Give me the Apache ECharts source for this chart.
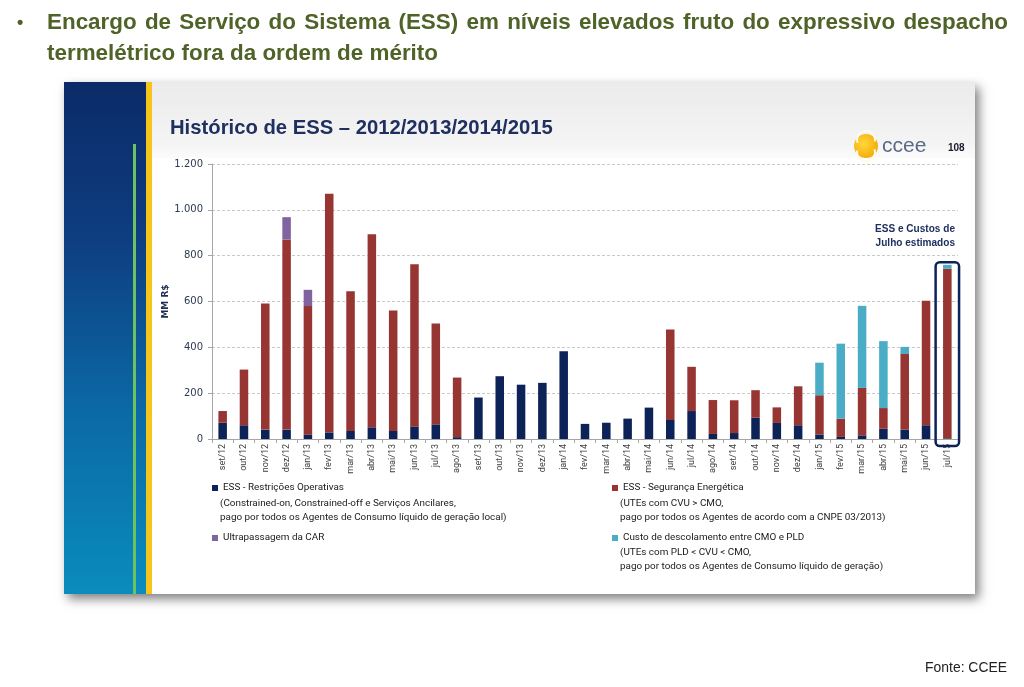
<!DOCTYPE html>
<html><head><meta charset="utf-8">
<script src="https://cdn.jsdelivr.net/npm/echarts@6/dist/echarts.min.js"></script>
<style>html,body{margin:0;padding:0;background:#fff}#main{width:1024px;height:687px}</style>
</head><body><div id="main"></div>
<script>
const categories = ['set/12','out/12','nov/12','dez/12','jan/13','fev/13','mar/13','abr/13','mai/13','jun/13','jul/13','ago/13','set/13','out/13','nov/13','dez/13','jan/14','fev/14','mar/14','abr/14','mai/14','jun/14','jul/14','ago/14','set/14','out/14','nov/14','dez/14','jan/15','fev/15','mar/15','abr/15','mai/15','jun/15','jul/15'];
const restricoes = [71,60,41,41,19,29,35,51,35,55,64,8,181,274,237,245,383,66,71,89,137,83,122,22,26,93,70,60,20,9,16,45,41,60,3];
const seguranca  = [51,243,550,830,561,1041,610,842,526,708,440,260,0,0,0,0,0,0,0,0,0,395,193,148,143,120,68,170,171,80,207,90,330,543,740];
const ultrapassagem = [0,0,0,97,71,0,0,0,0,0,0,0,0,0,0,0,0,0,0,0,0,0,0,0,0,0,0,0,0,0,0,0,0,0,0];
const descolamento  = [0,0,0,0,0,0,0,0,0,0,0,0,0,0,0,0,0,0,0,0,0,0,0,0,0,0,0,0,142,327,358,292,31,0,17];
const yTicks = [0,200,400,600,800,1000,1200];
const seriesNames = ['ESS - Restrições Operativas','ESS - Segurança Energética','Ultrapassagem da CAR','Custo de descolamento entre CMO e PLD'];
const legendSubText = ['(Constrained-on, Constrained-off e Serviços Ancilares,\npago por todos os Agentes de Consumo líquido de geração local)','(UTEs com CVU > CMO,\npago por todos os Agentes de acordo com a CNPE 03/2013)','','(UTEs com PLD < CVU < CMO,\npago por todos os Agentes de Consumo líquido de geração)'];
const headline1 = 'Encargo de Serviço do Sistema (ESS) em níveis elevados fruto do expressivo despacho';
const headline2 = 'termelétrico fora da ordem de mérito';
const slideTitle = 'Histórico de ESS – 2012/2013/2014/2015';
const noteText = 'ESS e Custos de\nJulho estimados';
const sourceText = 'Fonte: CCEE';

const hFam = "'Liberation Sans',Arial,sans-serif";
const LFAM = "Roboto,'Liberation Sans',sans-serif";
const colors = ['#0d2358','#973532','#8064a2','#4bacc6'];

const cv = document.createElement('canvas').getContext('2d');
function measure(t, font){ cv.font = font; return cv.measureText(t).width; }
function fitSize(t, weight, family, target){ const w = measure(t, weight+' 20px '+family); return 20*target/w; }

const hSize = fitSize(headline2,'bold',hFam,391);
const hFont = 'bold '+hSize.toFixed(2)+'px '+hFam;
const words = headline1.split(' ');
const ww = words.map(w=>measure(w,hFont));
const totalW = ww.reduce((a,b)=>a+b,0);
const gap = (1008-47-totalW)/(words.length-1);
const headGraphics = [];
let xx = 47;
words.forEach((w,i)=>{ headGraphics.push({type:'text', x:xx, y:23, style:{text:w, fill:'#4f6228', font:hFont, textVerticalAlign:'middle'}}); xx += ww[i]+gap; });
headGraphics.push({type:'text', x:47, y:54, style:{text:headline2, fill:'#4f6228', font:hFont, textVerticalAlign:'middle'}});
headGraphics.push({type:'text', x:17, y:23, style:{text:'•', fill:'#4f6228', font:'bold 18px '+hFam, textVerticalAlign:'middle'}});

const tSize = fitSize(slideTitle,'bold',hFam,383);
const lSize = Math.round(fitSize('pago por todos os Agentes de Consumo líquido de geração local)','normal',LFAM,287)*10)/10;
const nSize = fitSize('ESS e Custos de','bold',hFam,80);
const fSize = fitSize(sourceText,'normal',hFam,82);

const chart = echarts.init(document.getElementById('main'));
const legendBase = {orient:'horizontal', icon:'rect', itemWidth:6, itemHeight:6, padding:0, selectedMode:false,
  textStyle:{fontSize:lSize, color:'#1a1a1a', fontFamily:LFAM}};
const option = {
  animation:false,
  backgroundColor:'#ffffff',
  legend:[
    Object.assign({}, legendBase, {data:[seriesNames[0]], left:212, top:483}),
    Object.assign({}, legendBase, {data:[seriesNames[1]], left:612, top:483}),
    Object.assign({}, legendBase, {data:[seriesNames[2]], left:212, top:533}),
    Object.assign({}, legendBase, {data:[seriesNames[3]], left:612, top:533})
  ],
  grid:{left:212, right:66, top:164, bottom:248, containLabel:false},
  xAxis:{type:'category', data:categories, boundaryGap:true,
    axisLine:{lineStyle:{color:'#a6a6a6'}},
    axisTick:{show:true, length:4, lineStyle:{color:'#a6a6a6'}},
    axisLabel:{rotate:90, fontSize:9, color:'#404040', fontFamily:LFAM, margin:5, interval:0}},
  yAxis:{type:'value', min:0, max:1200, interval:200,
    name:'MM R$', nameLocation:'middle', nameGap:42, nameMoveOverlap:false,
    nameTextStyle:{fontSize:9, fontWeight:'bold', color:'#1f2d55', fontFamily:"'DejaVu Sans',sans-serif"},
    axisLine:{show:true, lineStyle:{color:'#a6a6a6'}},
    axisTick:{show:true, length:4, lineStyle:{color:'#a6a6a6'}},
    axisLabel:{fontSize:10, color:'#2e3a52', fontFamily:"'DejaVu Sans',sans-serif", margin:9,
      formatter:v=> v>=1000 ? String(v).replace(/(\d)(\d{3})$/,'$1.$2') : String(v)},
    splitLine:{show:true, lineStyle:{color:'#c9c9c9', type:[3,2]}}},
  series:[
    {name:seriesNames[0], type:'bar', stack:'ess', data:restricoes, barWidth:'40%', itemStyle:{color:colors[0]}},
    {name:seriesNames[1], type:'bar', stack:'ess', data:seguranca, itemStyle:{color:colors[1]}},
    {name:seriesNames[2], type:'bar', stack:'ess', data:ultrapassagem, itemStyle:{color:colors[2]}},
    {name:seriesNames[3], type:'bar', stack:'ess', data:descolamento, itemStyle:{color:colors[3]}}
  ],
  graphic:[]
};
chart.setOption(option);

const g = [
  {type:'rect', z:-10, silent:true, shape:{x:64,y:82,width:911,height:512},
   style:{fill:'#ffffff', shadowBlur:10, shadowOffsetX:4, shadowOffsetY:5, shadowColor:'rgba(0,0,0,0.5)'}},
  {type:'rect', z:-9, silent:true, shape:{x:152,y:82,width:823,height:76},
   style:{fill:new echarts.graphic.LinearGradient(0,0,0,1,[{offset:0,color:'#ebebeb'},{offset:0.8,color:'#f4f4f4'},{offset:1,color:'#fbfbfb'}])}},
  {type:'rect', z:-9, silent:true, shape:{x:64,y:82,width:82,height:512},
   style:{fill:new echarts.graphic.LinearGradient(0,0,0,1,[{offset:0,color:'#0c2a68'},{offset:0.3,color:'#0e3d80'},{offset:0.65,color:'#0b6aa6'},{offset:1,color:'#0a8cbd'}])}},
  {type:'rect', z:-8, silent:true, shape:{x:146,y:82,width:6,height:512}, style:{fill:'#f6c51b'}},
  {type:'rect', z:-8, silent:true, shape:{x:133,y:144,width:3,height:450}, style:{fill:'#6cc160'}},
  {type:'text', x:170, y:128, style:{text:slideTitle, fill:'#1f3060', font:'bold '+tSize.toFixed(2)+'px '+hFam, textVerticalAlign:'middle'}},
  {type:'circle', shape:{cx:866,cy:146,r:12}, style:{fill:new echarts.graphic.RadialGradient(0.4,0.4,0.8,[{offset:0,color:'#ffd83a'},{offset:1,color:'#f0a000'}])}},
  {type:'arc', shape:{cx:866,cy:140,r:9,startAngle:Math.PI*0.9,endAngle:Math.PI*2.05}, style:{stroke:'#fffbe8',lineWidth:2,fill:null}},
  {type:'arc', shape:{cx:866,cy:152,r:9,startAngle:-Math.PI*0.1,endAngle:Math.PI*1.05}, style:{stroke:'#fffbe8',lineWidth:2,fill:null}},
  {type:'text', x:882, y:146, style:{text:'ccee', fill:'#5a6a86', font:'21px '+hFam, textVerticalAlign:'middle'}},
  {type:'text', x:948, y:148, style:{text:'108', fill:'#1a1a2a', font:'bold 10px '+hFam, textVerticalAlign:'middle'}},
  {type:'text', x:955, y:236, style:{text:noteText, fill:'#1f3060', font:'bold '+nSize.toFixed(2)+'px '+hFam, textAlign:'right', textVerticalAlign:'middle', lineHeight:14}},
  {type:'text', x:1007, y:668, style:{text:sourceText, fill:'#222222', font:fSize.toFixed(2)+'px '+hFam, textAlign:'right', textVerticalAlign:'middle'}}
].concat(headGraphics);

[[220,497,0],[620,497,1],[620,546,3]].forEach(([x,y,i])=>{
  g.push({type:'text', x:x, y:y, style:{text:legendSubText[i], fill:'#1a1a1a', font:lSize+'px '+LFAM, lineHeight:14}});
});

const last = categories.length-1;
const total = restricoes[last]+seguranca[last]+ultrapassagem[last]+descolamento[last];
const pTop = chart.convertToPixel({gridIndex:0},[last,total]);
const pBot = chart.convertToPixel({gridIndex:0},[last,0]);
const p0 = chart.convertToPixel({gridIndex:0},[0,0]);
const p1 = chart.convertToPixel({gridIndex:0},[1,0]);
const band = p1[0]-p0[0];
g.push({type:'rect', shape:{x:pTop[0]-band*0.55, y:pTop[1]-2.5, width:band*1.1, height:pBot[1]-pTop[1]+9.5, r:4},
  style:{fill:null, stroke:'#0d2358', lineWidth:2.5}, z:10});

chart.setOption({graphic:g});
</script></body></html>
